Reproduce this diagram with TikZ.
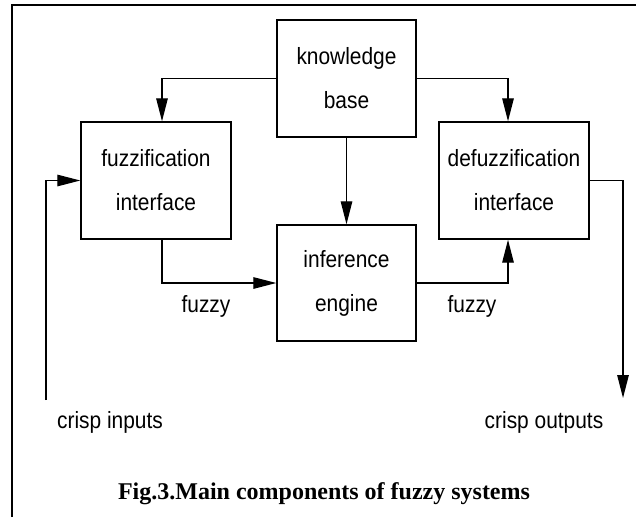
\documentclass[tikz,border=0pt]{standalone}
\usepackage{fontspec}
\setmainfont{Liberation Sans}[FakeStretch=0.89]
\newfontfamily\capfont{Liberation Serif}
\usetikzlibrary{arrows.meta}
\begin{document}
\begin{tikzpicture}[x=1pt,y=-1pt,
  block/.style={draw, line width=1.4pt, align=center, inner sep=0pt,
    font=\fontsize{23.5}{44}\selectfont},
  flow/.style={draw, line width=1.3pt, -{Triangle[length=23pt,width=11.5pt]}},
  lbl/.style={font=\fontsize{23.5}{26}\selectfont, inner sep=0pt},
  frameline/.style={line width=2.2pt}]
  \useasboundingbox (0,0) rectangle (636,517);

  % frame (left and top edges)
  \draw[frameline] (12,517) -- (12,5) -- (636,5);

  % blocks
  \node[block, minimum width=139pt, minimum height=117pt] (kb)  at (346.5,78.5) {knowledge\\base};
  \node[block, minimum width=150pt, minimum height=117pt] (fz)  at (156,180.5) {fuzzification\\interface};
  \node[block, minimum width=150pt, minimum height=117pt] (dfz) at (514,180.5) {defuzzification\\interface};
  \node[block, minimum width=139pt, minimum height=116pt] (inf) at (346.5,283) {inference\\engine};

  % free ends of the outer signals
  \coordinate (ci) at (46,400);
  \coordinate (co) at (623,398);

  % connectors
  \draw[flow] (kb.west) -| ([xshift=6pt]fz.north);
  \draw[flow] (kb.east) -| ([xshift=-6pt]dfz.north);
  \draw[flow] (kb.south) -- (inf.north);
  \draw[flow] ([xshift=6pt]fz.south) |- (inf.west);
  \draw[flow] (inf.east) -| ([xshift=-6pt]dfz.south);
  \draw[flow] (ci) |- (fz.west);
  \draw[flow] (dfz.east) -| (co);

  % labels
  \node[lbl] (f1) at (206,306) {fuzzy};
  \node[lbl] (f2) at (472,306) {fuzzy};
  \node[lbl] (in) at (110,422) {crisp inputs};
  \node[lbl] (out) at (544,422) {crisp outputs};

  % caption
  \node[font=\capfont\bfseries\fontsize{24}{28}\selectfont, inner sep=0pt] (cap) at (324,494)
    {Fig.3.Main components of fuzzy systems};
\end{tikzpicture}
\end{document}
